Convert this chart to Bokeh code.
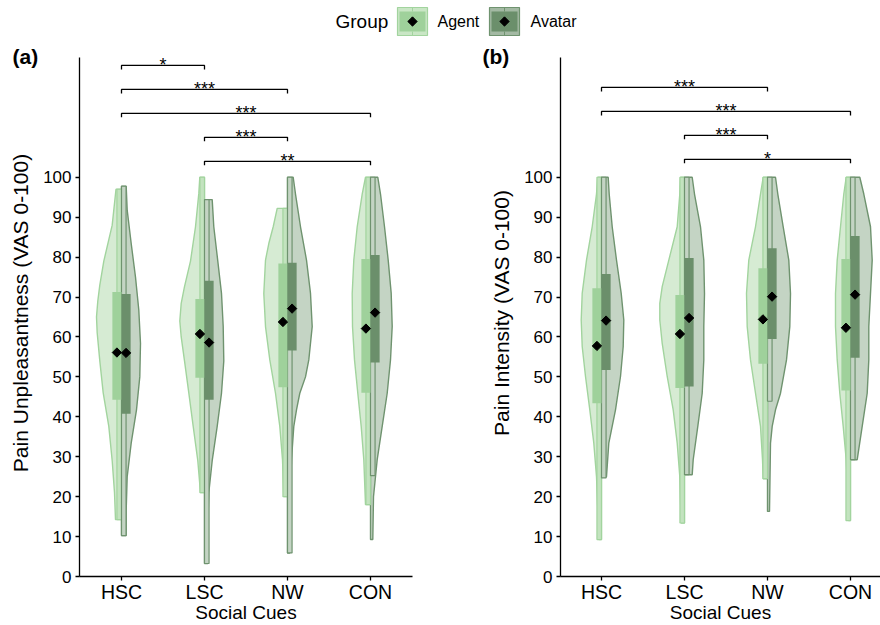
import numpy as np
from bokeh.plotting import figure
from bokeh.layouts import column, row
from bokeh.models import FixedTicker, Range1d, Title
from bokeh.embed import file_html
from bokeh.resources import INLINE
from bokeh.core.properties import value

categories = ["HSC", "LSC", "NW", "CON"]
x_pos = [1, 2, 3, 4]
groups = ["Agent", "Avatar"]

# ---------------- Panel (a): Pain Unpleasantness ----------------
a_agent_levels = [
    [14.25, 21, 29, 37.6, 46, 54, 61, 65, 69, 73, 79, 88, 97],
    [21, 29, 37.6, 46, 54, 60, 64, 68.4, 72.6, 79, 87.6, 95.9, 100],
    [20, 29.25, 37.6, 45.9, 54.25, 62.6, 70.9, 79.25, 83.4, 87.6, 92.2],
    [18, 29.25, 37.6, 45.9, 54.25, 62.6, 70.9, 79.25, 87.6, 95.8, 100],
]
a_agent_density = [
    [6, 7, 9.3, 12.7, 18.3, 21.7, 24.3, 25, 23.7, 21.7, 17.7, 9.3, 5.5],
    [4, 6.7, 11.3, 15.7, 20, 23.3, 24.7, 23.3, 20, 14, 9, 5.7, 4.7],
    [3.7, 5, 7.7, 12, 17.7, 22, 23.7, 22, 18.7, 14.3, 10.3],
    [5, 6.7, 9.3, 12.7, 16, 18, 18.3, 16.7, 13.3, 8.3, 5],
]
a_avatar_levels = [
    [10.25, 16.75, 25, 33.4, 41.75, 50, 58.4, 66.75, 75, 83.4, 91.75, 97.75],
    [3.25, 12.6, 21, 29, 37.6, 45.9, 54, 62.6, 70.9, 79, 87.6, 94.4],
    [5.9, 20.9, 29.25, 37.6, 41.75, 45.9, 50, 54.25, 62.6, 70.9, 79.25, 87.6, 95.8, 100],
    [9.25, 20, 29.25, 37.6, 45.9, 54.25, 62.6, 70.9, 79.25, 87.6, 95.8, 100],
]
a_avatar_density = [
    [4.7, 4.7, 5.7, 9.7, 15, 18.3, 19, 17.3, 14, 9.7, 5.7, 4.7],
    [3.3, 3.3, 4.3, 7.7, 12.7, 17, 19.3, 18.7, 17, 13.3, 9.3, 7.7],
    [2.3, 3, 4, 6.3, 9, 12.3, 18, 21.3, 24.7, 23, 19, 13, 8, 5.7],
    [2.3, 3, 6.7, 11.7, 16.7, 20, 21.7, 20.7, 17.7, 14, 10, 7.3],
]
a_agent_q1 = [44.25, 49.8, 47.4, 46.0]
a_agent_q3 = [71.25, 69.5, 78.4, 79.5]
a_agent_mean = [56.1, 60.75, 63.75, 62.1]
a_agent_lo = [14.25, 21, 20, 18]
a_agent_hi = [97, 100, 92.2, 100]
a_avatar_q1 = [40.75, 44.25, 56.6, 53.6]
a_avatar_q3 = [70.75, 74.1, 78.6, 80.5]
a_avatar_mean = [56.0, 58.6, 67.1, 66.1]
a_avatar_lo = [10.25, 3.25, 5.9, 25.25]
a_avatar_hi = [97.75, 94.4, 100, 100]
a_pairs = [(1, 2), (1, 3), (1, 4), (2, 3), (2, 4)]
a_bracket_y = [128, 122, 116, 110, 104]
a_bracket_label = ["*", "***", "***", "***", "**"]

# ---------------- Panel (b): Pain Intensity ----------------
b_agent_levels = [
    [9.25, 16.75, 25, 33.4, 41.75, 50.1, 57.6, 64.25, 70.9, 79.25, 87.6, 95.8, 100],
    [13.4, 25, 33.4, 41.75, 50.1, 58.4, 64.25, 68.4, 72.6, 79.25, 87.6, 95.8, 100],
    [24.5, 29.25, 37.6, 45.9, 54.25, 62.6, 70.9, 79.25, 87.6, 95.8, 100],
    [14, 20.9, 29.25, 37.6, 45.9, 54.25, 62.6, 70.9, 79.25, 87.6, 95.8, 100],
]
b_agent_density = [
    [2.7, 3.7, 5, 7.7, 11.7, 16, 19.3, 20.3, 19.3, 15, 9.3, 5, 3.7],
    [3.3, 4.7, 7.3, 11.3, 17.3, 22.3, 24.7, 24.7, 22.3, 15.7, 7.3, 4.7, 4],
    [4.3, 5, 7, 12, 17, 20.3, 21, 18.7, 12, 7, 4.3],
    [2, 2.7, 4.3, 7.3, 10.7, 13.3, 15, 15, 13.3, 10, 6.7, 4.3],
]
b_avatar_levels = [
    [25, 33.4, 41.75, 50.1, 57.6, 64.25, 70.9, 79.25, 87.6, 95.8, 100],
    [25.5, 29.25, 37.6, 45.9, 54.25, 62.6, 70.9, 79.25, 87.6, 95.8, 100],
    [16.3, 33.4, 37.6, 41.75, 45.9, 54.25, 62.6, 70.9, 79.25, 87.6, 95.8, 100],
    [29.25, 37.6, 45.9, 54.25, 62.6, 70.9, 79.25, 87.6, 95.8, 100],
]
b_avatar_density = [
    [5, 7.3, 14, 19, 21.7, 22.3, 19.7, 15, 10.7, 7.7, 6.7],
    [7.7, 8.7, 13.3, 17.7, 19.3, 19.3, 20, 19.3, 16, 10, 7.7],
    [2, 3, 4.7, 8, 13, 19, 22.3, 23, 21.3, 15.7, 10.3, 8],
    [6.7, 11.7, 16.7, 18.3, 18.3, 20, 21.7, 20, 13.3, 9.3],
]
b_agent_q1 = [43.4, 47.2, 53.3, 46.6]
b_agent_q3 = [72.2, 70.5, 77.2, 79.5]
b_agent_mean = [57.75, 60.75, 64.4, 62.3]
b_agent_lo = [9.25, 13.4, 24.5, 14]
b_agent_hi = [100, 100, 100, 100]
b_avatar_q1 = [51.75, 47.6, 59.5, 54.8]
b_avatar_q3 = [75.75, 79.8, 82.2, 85.3]
b_avatar_mean = [64.1, 64.75, 70.1, 70.6]
b_avatar_lo = [24.7, 25.5, 43.9, 29.25]
b_avatar_hi = [100, 100, 100, 100]
b_pairs = [(1, 3), (1, 4), (2, 3), (2, 4)]
b_bracket_y = [122.5, 116.5, 110.5, 104.5]
b_bracket_label = ["***", "***", "***", "*"]

# ---------------- styling ----------------
FONT = "Liberation Sans"
DENS = 1.0 / 83.0          # density units -> category units
BOX_W = 0.11
WHISK_W = 0.055
AG_FILL, AG_LINE, AG_BOX, AG_WHISK = "#d6ebd3", "#a2d49e", "#9fd19b", "#c3e3bf"
AV_FILL, AV_LINE, AV_BOX = "#c4d4c4", "#6f936f", "#6b8f6b"

LEG_H = 40
PH, PT, PB = 585, 9, 48
Y_TOP = 132


def style_axes(p, ylabel):
    p.xaxis.ticker = FixedTicker(ticks=x_pos)
    p.xaxis.major_label_overrides = {x: c for x, c in zip(x_pos, categories)}
    p.yaxis.ticker = FixedTicker(ticks=list(range(0, 101, 10)))
    p.yaxis.bounds = (0, 130)
    for ax in (p.xaxis[0], p.yaxis[0]):
        ax.axis_line_color = "black"
        ax.axis_line_width = 1.3
        ax.major_tick_line_color = "black"
        ax.major_tick_line_width = 1.3
        ax.major_tick_in = 0
        ax.major_tick_out = 4
        ax.minor_tick_line_color = None
        ax.major_label_text_font = FONT
        ax.major_label_text_color = "black"
        ax.axis_label_text_font = FONT
        ax.axis_label_text_font_style = "normal"
        ax.axis_label_text_color = "black"
        ax.major_label_text_line_height = 1.0
        ax.axis_label_text_line_height = 1.0
    p.xaxis.major_label_text_font_size = "19.5px"
    p.yaxis.major_label_text_font_size = "17px"
    p.xaxis.axis_label_text_font_size = "19px"
    p.yaxis.axis_label_text_font_size = "21px"
    p.xaxis.major_label_standoff = 0
    p.xaxis.axis_label_standoff = -4
    p.yaxis.major_label_standoff = 4
    p.yaxis.axis_label_standoff = 8
    p.xaxis.axis_label = "Social Cues"
    p.yaxis.axis_label = ylabel
    p.xgrid.visible = False
    p.ygrid.visible = False
    p.outline_line_color = None


def make_panel(ag_lv, ag_d, av_lv, av_d, ag_q1, ag_q3, ag_mean, ag_lo, ag_hi,
               av_q1, av_q3, av_mean, av_lo, av_hi, pairs, by, blab,
               ylabel, tag, x0, x1, width, bl, br):
    p = figure(width=width, height=PH, x_range=Range1d(x0, x1), y_range=Range1d(0, Y_TOP),
               output_backend="svg", toolbar_location=None,
               min_border_left=bl, min_border_right=br, min_border_top=PT, min_border_bottom=PB)
    p.background_fill_color = "white"
    style_axes(p, ylabel)
    p.title = Title(text=tag, align="left", offset=-(bl - 12), standoff=-36,
                    vertical_align="bottom", text_font=FONT, text_font_size="21px",
                    text_font_style="bold", text_color="black")

    # split violins
    ag_xs, ag_ys, av_xs, av_ys = [], [], [], []
    for c, lv, d in zip(x_pos, ag_lv, ag_d):
        ag_xs.append([c - w * DENS for w in d] + [c, c])
        ag_ys.append(list(lv) + [lv[-1], lv[0]])
    for c, lv, d in zip(x_pos, av_lv, av_d):
        av_xs.append([c + w * DENS for w in d] + [c, c])
        av_ys.append(list(lv) + [lv[-1], lv[0]])
    p.patches(ag_xs, ag_ys, fill_color=AG_FILL, line_color=AG_LINE, line_width=1.4)
    p.patches(av_xs, av_ys, fill_color=AV_FILL, line_color=AV_LINE, line_width=1.4)

    xa = np.array(x_pos, dtype=float)
    # whiskers
    p.quad(left=xa - WHISK_W, right=xa, bottom=ag_lo, top=ag_hi,
           fill_color=AG_WHISK, line_color=AG_LINE, line_width=1.2)
    p.quad(left=xa, right=xa + WHISK_W, bottom=av_lo, top=av_hi,
           fill_color=AV_FILL, line_color=AV_LINE, line_width=1.2)
    # boxes
    p.quad(left=xa - BOX_W, right=xa, bottom=ag_q1, top=ag_q3,
           fill_color=AG_BOX, line_color=None)
    p.quad(left=xa, right=xa + BOX_W, bottom=av_q1, top=av_q3,
           fill_color=AV_BOX, line_color=None)
    # means
    p.scatter(x=xa - BOX_W / 2, y=ag_mean, marker="square", angle=np.pi / 4,
              size=6.6, fill_color="black", line_color="black")
    p.scatter(x=xa + BOX_W / 2, y=av_mean, marker="square", angle=np.pi / 4,
              size=6.6, fill_color="black", line_color="black")

    # significance brackets
    bx, byy, mx = [], [], []
    for (i, j), yv in zip(pairs, by):
        bx.append([i, i, j, j])
        byy.append([yv - 1, yv, yv, yv - 1])
        mx.append((i + j) / 2)
    p.multi_line(bx, byy, line_color="black", line_width=1.3)
    p.text(x=mx, y=by, text=blab, text_align="center", text_baseline="alphabetic",
           y_offset=0, text_font=value(FONT), text_font_size="18px", text_color="black")
    return p


pa = make_panel(a_agent_levels, a_agent_density, a_avatar_levels, a_avatar_density,
                a_agent_q1, a_agent_q3, a_agent_mean, a_agent_lo, a_agent_hi,
                a_avatar_q1, a_avatar_q3, a_avatar_mean, a_avatar_lo, a_avatar_hi,
                a_pairs, a_bracket_y, a_bracket_label,
                "Pain Unpleasantness (VAS 0-100)", "(a)", 0.494, 4.506, 470, 79, 58)
pb = make_panel(b_agent_levels, b_agent_density, b_avatar_levels, b_avatar_density,
                b_agent_q1, b_agent_q3, b_agent_mean, b_agent_lo, b_agent_hi,
                b_avatar_q1, b_avatar_q3, b_avatar_mean, b_avatar_lo, b_avatar_hi,
                b_pairs, b_bracket_y, b_bracket_label,
                "Pain Intensity (VAS 0-100)", "(b)", 0.506, 0.506 + 320 / 83.0, 410, 90, 0)

# ---------------- legend strip ----------------
leg = figure(width=880, height=LEG_H, x_range=Range1d(0, 880), y_range=Range1d(LEG_H, 0),
             output_backend="svg", toolbar_location=None, x_axis_type=None, y_axis_type=None,
             min_border=0)
leg.outline_line_color = None
leg.xgrid.visible = False
leg.ygrid.visible = False
key_left = [397, 489]
key_fill = ["#c9e6c5", "#a3b9a3"]
key_line = [AG_LINE, AV_LINE]
key_box = [AG_BOX, AV_BOX]
kl = np.array(key_left, dtype=float)
K_TOP, K_BOT = 7, 35
leg.quad(left=kl, right=kl + 30, top=K_TOP, bottom=K_BOT, fill_color=key_fill, line_color=key_line, line_width=1.2)
leg.quad(left=kl + 2, right=kl + 28, top=K_TOP + 4, bottom=K_BOT - 4, fill_color=key_box, line_color=None)
leg.multi_line([[x + 15, x + 15] for x in key_left], [[K_TOP, K_TOP + 4]] * 2, line_color=key_line, line_width=1)
leg.multi_line([[x + 15, x + 15] for x in key_left], [[K_BOT - 4, K_BOT]] * 2, line_color=key_line, line_width=1)
leg.scatter(x=kl + 15, y=[(K_TOP + K_BOT) / 2] * 2, marker="square", angle=np.pi / 4, size=6.6, color="black")
leg.text(x=[335], y=[(K_TOP + K_BOT) / 2], text=["Group"], text_font=value(FONT), text_font_size="19px",
         text_baseline="middle", text_color="black")
leg.text(x=[437, 530], y=[(K_TOP + K_BOT) / 2] * 2, text=groups, text_font=value(FONT), text_font_size="16px",
         text_baseline="middle", text_color="black")

layout = column(leg, row(pa, pb))
open("out.html", "w").write(file_html(layout, INLINE))
